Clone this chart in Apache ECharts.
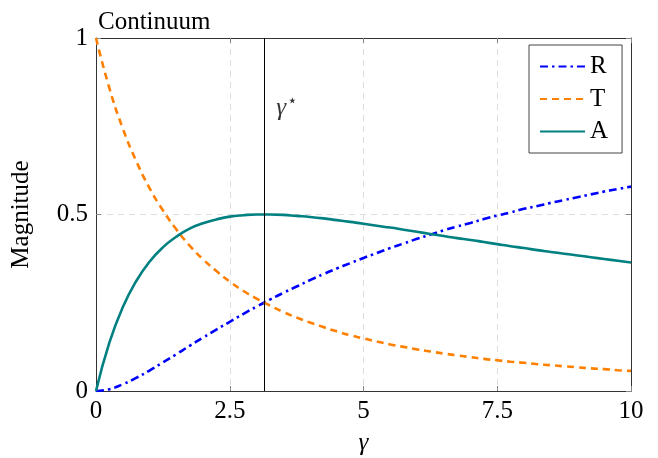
<!DOCTYPE html>
<html>
<head>
    <meta charset="utf-8">
    <title>Continuum</title>
    <script src="https://cdn.jsdelivr.net/npm/echarts@6/dist/echarts.min.js"></script>
    <style>
        html, body { margin: 0; padding: 0; background: #fff; }
    </style>
</head>
<body>
    <div id="main" style="width: 658px;height:458px;"></div>
    <script type="text/javascript">
        // values, every 0.25 in gamma
        var gamma = [0, 0.25, 0.5, 0.75, 1, 1.25, 1.5, 1.75, 2, 2.25, 2.5, 2.75, 3, 3.25, 3.5, 3.75, 4, 4.25, 4.5, 4.75, 5,
                     5.25, 5.5, 5.75, 6, 6.25, 6.5, 6.75, 7, 7.25, 7.5, 7.75, 8, 8.25, 8.5, 8.75, 9, 9.25, 9.5, 9.75, 10];
        var valR = [0, 0.005, 0.019, 0.037, 0.058, 0.081, 0.104, 0.128, 0.151, 0.174, 0.196, 0.218, 0.239, 0.259, 0.278, 0.296, 0.314, 0.331, 0.347, 0.362, 0.377,
                    0.391, 0.405, 0.418, 0.431, 0.443, 0.455, 0.466, 0.476, 0.487, 0.497, 0.506, 0.516, 0.524, 0.533, 0.541, 0.549, 0.557, 0.565, 0.572, 0.579];
        var valT = [1, 0.858, 0.744, 0.652, 0.575, 0.512, 0.458, 0.412, 0.373, 0.340, 0.310, 0.284, 0.262, 0.242, 0.224, 0.208, 0.194, 0.181, 0.169, 0.158, 0.149,
                    0.140, 0.132, 0.125, 0.118, 0.112, 0.106, 0.101, 0.096, 0.091, 0.087, 0.083, 0.080, 0.076, 0.073, 0.070, 0.067, 0.064, 0.062, 0.059, 0.057];
        var valA = [0, 0.137, 0.237, 0.311, 0.366, 0.407, 0.437, 0.460, 0.475, 0.486, 0.494, 0.498, 0.500, 0.500, 0.499, 0.496, 0.493, 0.489, 0.484, 0.479, 0.474,
                    0.468, 0.463, 0.457, 0.451, 0.445, 0.439, 0.433, 0.428, 0.422, 0.416, 0.410, 0.405, 0.399, 0.394, 0.389, 0.384, 0.379, 0.374, 0.369, 0.364];
        var yTicks = ['0', '0.5', '1'];
        var gammaStar = 3.1416;
        var starLabelPos = [3.57, 0.80];

        var serif = '"Liberation Serif", "DejaVu Serif", serif';

        function pairs(ys) {
            var out = [];
            for (var i = 0; i < gamma.length; i++) out.push([gamma[i], ys[i]]);
            return out;
        }

        var myChart = echarts.init(document.getElementById('main'));

        var innerTick = { show: true, inside: true, length: 5, lineStyle: { color: '#888' } };
        var frameLine = { show: true, onZero: false, lineStyle: { color: '#333', width: 1 } };
        var gridDash = { show: true, lineStyle: { color: '#ddd', type: [6, 5], width: 1 } };

        var option = {
            animation: false,
            textStyle: { fontFamily: serif, color: '#000' },
            title: {
                text: 'Continuum',
                left: 93,
                top: 5,
                textStyle: { fontFamily: serif, fontSize: 25, fontWeight: 'normal', color: '#000' }
            },
            grid: { left: 96, right: 27, top: 38, bottom: 67, outerBoundsMode: 'none' },
            legend: {
                data: ['R', 'T', 'A'],
                orient: 'vertical',
                left: 529,
                top: 45,
                padding: [9, 14, 9, 10],
                itemGap: 7.5,
                itemWidth: 45,
                itemHeight: 14,
                itemStyle: { opacity: 0 },
                borderColor: '#444',
                borderWidth: 1,
                backgroundColor: '#fff',
                textStyle: { fontFamily: serif, fontSize: 25, lineHeight: 25, color: '#000' }
            },
            xAxis: [
                {
                    type: 'value',
                    min: 0, max: 10, interval: 2.5,
                    name: 'γ',
                    nameLocation: 'middle',
                    nameGap: 40,
                    nameTextStyle: { fontFamily: serif, fontSize: 25, fontStyle: 'italic', color: '#000' },
                    axisLine: frameLine,
                    axisTick: innerTick,
                    axisLabel: { fontFamily: serif, fontSize: 25, color: '#000', margin: 8 },
                    splitLine: gridDash
                },
                {
                    type: 'value',
                    position: 'top',
                    min: 0, max: 10, interval: 2.5,
                    axisLine: frameLine,
                    axisTick: innerTick,
                    axisLabel: { show: false },
                    splitLine: { show: false }
                }
            ],
            yAxis: [
                {
                    type: 'value',
                    min: 0, max: 1, interval: 0.5,
                    name: 'Magnitude',
                    nameLocation: 'middle',
                    nameGap: 62,
                    nameTextStyle: { fontFamily: serif, fontSize: 25, color: '#000' },
                    axisLine: frameLine,
                    axisTick: innerTick,
                    axisLabel: {
                        fontFamily: serif, fontSize: 25, color: '#000', margin: 8,
                        formatter: function (v) { return yTicks[Math.round(v / 0.5)]; }
                    },
                    splitLine: gridDash
                },
                {
                    type: 'value',
                    position: 'right',
                    min: 0, max: 1, interval: 0.5,
                    axisLine: frameLine,
                    axisTick: innerTick,
                    axisLabel: { show: false },
                    splitLine: { show: false }
                }
            ],
            series: [
                {
                    name: 'R',
                    type: 'line',
                    data: pairs(valR),
                    smooth: true,
                    symbol: 'none',
                    color: '#0000ff',
                    lineStyle: { color: '#0000ff', width: 2.6, type: [8, 4, 2.5, 4] },
                    z: 3
                },
                {
                    name: 'T',
                    type: 'line',
                    data: pairs(valT),
                    smooth: true,
                    symbol: 'none',
                    color: '#ff8000',
                    lineStyle: { color: '#ff8000', width: 2.6, type: [7, 5] },
                    z: 3
                },
                {
                    name: 'A',
                    type: 'line',
                    data: pairs(valA),
                    smooth: true,
                    symbol: 'none',
                    color: '#008080',
                    lineStyle: { color: '#008080', width: 2.6 },
                    z: 3,
                    markLine: {
                        silent: true,
                        symbol: 'none',
                        label: { show: false },
                        lineStyle: { color: '#000', width: 1, type: 'solid' },
                        data: [{ xAxis: gammaStar }]
                    }
                },
                {
                    name: 'gammaStar',
                    type: 'scatter',
                    data: [starLabelPos],
                    symbolSize: 0,
                    silent: true,
                    label: {
                        show: true,
                        position: 'inside',
                        formatter: '{g|γ}{s|⋆}',
                        rich: {
                            g: { fontFamily: serif, fontSize: 25, fontStyle: 'italic', color: '#000' },
                            s: { fontFamily: '"DejaVu Sans", sans-serif', fontSize: 17, color: '#000', padding: [0, 0, 14, 1] }
                        }
                    }
                }
            ]
        };

        myChart.setOption(option);
    </script>
</body>
</html>
